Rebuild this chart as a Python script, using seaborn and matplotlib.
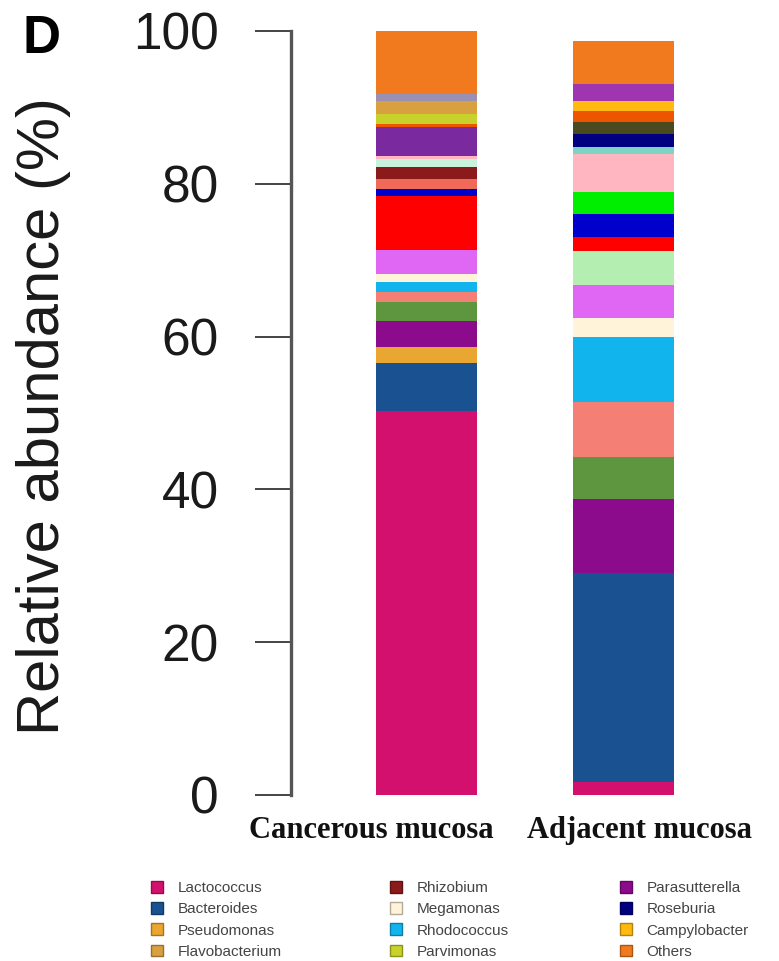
import matplotlib
matplotlib.use("Agg")
import matplotlib.pyplot as plt
import matplotlib.transforms as mtrans
from matplotlib.patches import Patch
from matplotlib.colors import to_rgb
import pandas as pd
import seaborn as sns

# ---- data -------------------------------------------------------------
samples = ["Cancerous mucosa", "Adjacent mucosa"]

# genera in stacking order, bottom to top
taxa = [
    "Lactococcus", "Bacteroides", "Pseudomonas", "Parasutterella",
    "Prevotella", "Fusobacterium", "Rhodococcus", "Megamonas",
    "Streptococcus", "Escherichia", "Sphingomonas", "Acinetobacter",
    "Akkermansia", "Peptostreptococcus", "Rhizobium", "Blautia",
    "Bifidobacterium", "Porphyromonas", "Alistipes", "Roseburia",
    "Ruminococcus", "Faecalibacterium", "Parvimonas", "Campylobacter",
    "Flavobacterium", "Clostridium", "Gemella", "Others",
]

taxon_colors = [
    "#D4106E", "#1A5291", "#E9A630", "#8C0A8C",
    "#5E9640", "#F47F74", "#12B4EE", "#FFF3DA",
    "#E066F4", "#B4EEB0", "#FF0000", "#0000CD",
    "#00EE00", "#F06A5A", "#8B1A1A", "#C8F2DC",
    "#FFB6C1", "#7A2A9E", "#7FD3C4", "#000080",
    "#4A4A1E", "#EE5500", "#C8D22A", "#FFB90F",
    "#D9A040", "#9A90B4", "#A035B0", "#F27A1E",
]

# relative abundance (%) per genus
cancerous = [
    50.2, 6.4, 2.1, 3.3,
    2.5, 1.4, 1.2, 1.1,
    3.2, 0.0, 7.0, 0.9,
    0.0, 1.3, 1.6, 1.0,
    0.4, 3.8, 0.0, 0.0,
    0.0, 0.4, 1.3, 0.0,
    1.7, 0.9, 0.0, 8.3,
]
adjacent = [
    1.7, 27.4, 0.0, 9.6,
    5.6, 7.2, 8.5, 2.5,
    4.3, 4.4, 1.9, 2.9,
    2.9, 0.0, 0.0, 0.0,
    5.0, 0.0, 0.9, 1.7,
    1.6, 1.4, 0.0, 1.3,
    0.0, 0.0, 2.2, 5.7,
]

# genera listed in the key, one list per key column
legend_columns = [
    ["Lactococcus", "Bacteroides", "Pseudomonas", "Flavobacterium"],
    ["Rhizobium", "Megamonas", "Rhodococcus", "Parvimonas"],
    ["Parasutterella", "Roseburia", "Campylobacter", "Others"],
]

y_ticks = [0, 20, 40, 60, 80, 100]
y_label = "Relative abundance (%)"
panel_tag = "D"

# ---- long-form table ---------------------------------------------------
df = pd.DataFrame({
    "sample": [samples[0]] * len(taxa) + [samples[1]] * len(taxa),
    "taxon": taxa + taxa,
    "abundance": cancerous + adjacent,
})
palette = dict(zip(taxa, taxon_colors))

# ---- figure --------------------------------------------------------------
sns.set_style("white")
plt.rcParams["font.family"] = ["Liberation Sans", "DejaVu Sans"]

W, H = 779, 961
fig = plt.figure(figsize=(W / 100, H / 100), dpi=100)

ax_left, ax_right = 291, 779
ax_bottom, ax_top = 795, 31
ax = fig.add_axes([ax_left / W, (H - ax_bottom) / H,
                   (ax_right - ax_left) / W, (ax_bottom - ax_top) / H])

# the histogram stacks the last hue level lowest, so hand it the order reversed
sns.histplot(
    data=df, x="sample", weights="abundance", hue="taxon",
    hue_order=taxa[::-1], palette=palette, multiple="stack",
    discrete=True, shrink=0.513, linewidth=0, alpha=1,
    legend=False, ax=ax,
)

ax.set_xlim(-0.69, 1.787)
ax.set_ylim(0, 100)
ax.set_xlabel("")
ax.set_ylabel("")

for side in ("top", "right", "bottom"):
    ax.spines[side].set_visible(False)
ax.spines["left"].set_color("#555555")
ax.spines["left"].set_linewidth(2.4)

ax.set_yticks(y_ticks)
ax.set_yticklabels([str(t) for t in y_ticks])
ax.tick_params(axis="y", left=True, direction="out", length=26, width=1.4,
               color="#444444", pad=26, labelsize=37, labelcolor="#1a1a1a")

ax.set_xticks([0, 1])
ax.set_xticklabels(samples, fontfamily=["Liberation Serif", "DejaVu Serif"],
                   fontweight="bold", fontsize=22, color="#111111")
ax.tick_params(axis="x", bottom=False, length=0, pad=15)
shifts = [-0.56, 0.16]
for lab, dx in zip(ax.get_xticklabels(), shifts):
    lab.set_transform(lab.get_transform()
                      + mtrans.ScaledTranslation(dx, 0, fig.dpi_scale_trans))

fig.text(44 / W, 0.567, y_label, rotation=90, ha="center", va="center",
         fontsize=43, color="#1a1a1a")
fig.text(22 / W, 1 - 53 / H, panel_tag, ha="left", va="baseline",
         fontsize=38, fontweight="bold", color="#000000")

# ---- key -----------------------------------------------------------------
def darker(c, f=0.7):
    r, g, b = to_rgb(c)
    return (r * f, g * f, b * f)

col_x = [151, 390, 620]
for names, x0 in zip(legend_columns, col_x):
    handles = [Patch(facecolor=palette[n], edgecolor=darker(palette[n]),
                     linewidth=1.0) for n in names]
    fig.legend(handles, names, loc="upper left",
               bbox_to_anchor=(x0 / W, 1 - 881 / H),
               frameon=False, fontsize=11, labelcolor="#444444",
               handlelength=0.8, handleheight=0.8, handletextpad=0.95,
               labelspacing=0.46, borderpad=0, borderaxespad=0)

fig.savefig("out.png", dpi=100)
